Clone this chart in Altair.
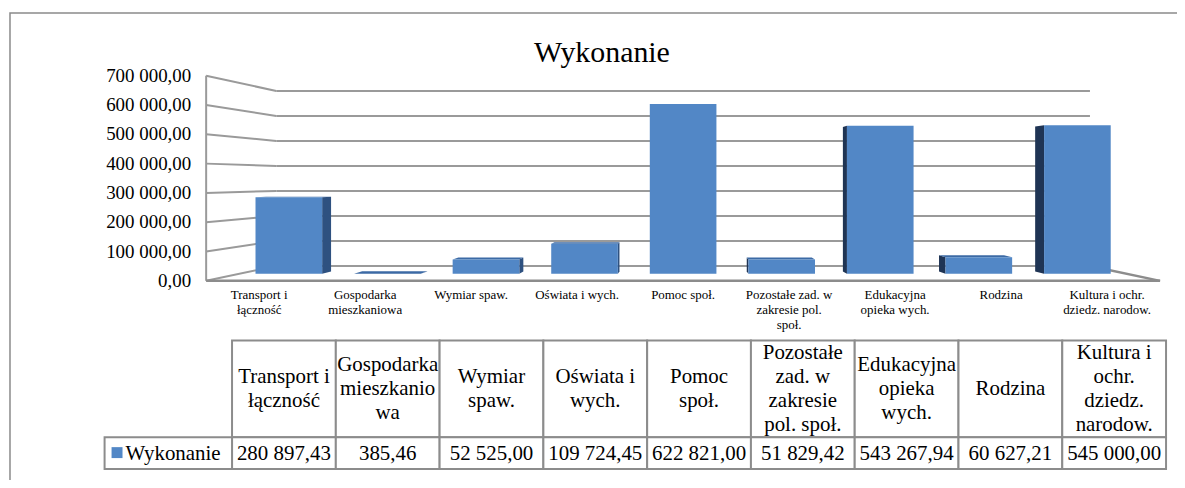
import altair as alt
import pandas as pd

# ---------------- data ----------------
series_name = "Wykonanie"
categories = [
    "Transport i łączność", "Gospodarka mieszkaniowa", "Wymiar spaw.",
    "Oświata i wych.", "Pomoc społ.", "Pozostałe zad. w zakresie pol. społ.",
    "Edukacyjna opieka wych.", "Rodzina", "Kultura i ochr. dziedz. narodow.",
]
axis_labels = [
    "Transport i\nłączność", "Gospodarka\nmieszkaniowa", "Wymiar spaw.",
    "Oświata i wych.", "Pomoc społ.", "Pozostałe zad. w\nzakresie pol.\nspoł.",
    "Edukacyjna\nopieka wych.", "Rodzina", "Kultura i ochr.\ndziedz. narodow.",
]
table_headers = [
    "Transport i\nłączność", "Gospodarka\nmieszkanio\nwa", "Wymiar\nspaw.",
    "Oświata i\nwych.", "Pomoc\nspoł.", "Pozostałe\nzad. w\nzakresie\npol. społ.",
    "Edukacyjna\nopieka\nwych.", "Rodzina", "Kultura i\nochr.\ndziedz.\nnarodow.",
]
values = [280897.43, 385.46, 52525.00, 109724.45, 622821.00,
          51829.42, 543267.94, 60627.21, 545000.00]
y_ticks = [0, 100000, 200000, 300000, 400000, 500000, 600000, 700000]

# ---------------- layout / perspective ----------------
W, H = 958, 206
XMIN, XMAX = -0.5, 8.5
YMAX = 700000
XC, VC = 4.0, 346600.0         # vanishing centre (slot units, value units)
S_WALL, S_F, S_B, HW = 0.853, 0.93, 0.907, 0.338
SERIF = "Liberation Serif"
GRID = "#9A9A9A"
FRONT, RIGHT_FACE, LEFT_FACE, TOP_FACE = "#5287C6", "#2E5180", "#1F3454", "#3C6AA5"


def px(x, s):
    return XC + (x - XC) * s


def pv(v, s):
    return VC + (v - VC) * s


def fmt(v):
    return f"{v:,.2f}".replace(",", " ").replace(".", ",")


xs = alt.Scale(domain=[XMIN, XMAX], nice=False, zero=False)
ys = alt.Scale(domain=[0, YMAX], nice=False, zero=False)


def X(f):
    return alt.X(f, type="quantitative", scale=xs, axis=None)


def Y(f):
    return alt.Y(f, type="quantitative", scale=ys, axis=None)


# back wall grid
wall = pd.DataFrame({
    "x": [px(XMIN, S_WALL)] * len(y_ticks),
    "x2": [px(XMAX, S_WALL)] * len(y_ticks),
    "y": [pv(t, S_WALL) for t in y_ticks],
})
back_grid = alt.Chart(wall).mark_rule(color=GRID, strokeWidth=2).encode(
    x=X("x"), x2="x2", y=Y("y")
)

# left wall lines + front vertical edge (value axis)
left = pd.DataFrame({
    "x": [XMIN] * len(y_ticks) + [XMIN],
    "y": y_ticks + [0],
    "x2": [px(XMIN, S_WALL)] * len(y_ticks) + [XMIN],
    "y2": [pv(t, S_WALL) for t in y_ticks] + [YMAX],
})
left_wall = alt.Chart(left).mark_rule(color=GRID, strokeWidth=2).encode(
    x=X("x"), y=Y("y"), x2="x2", y2="y2"
)

# value-axis labels
ylab = pd.DataFrame({"x": [XMIN] * len(y_ticks), "y": y_ticks,
                     "t": [fmt(t) for t in y_ticks]})
ylab_l = alt.Chart(ylab).mark_text(
    font=SERIF, fontSize=19, align="right", baseline="middle", dx=-15, color="black"
).encode(x=X("x"), y=Y("y"), text="t:N")

# floor edges
floor = pd.DataFrame({
    "x": [XMIN, XMAX],
    "y": [0, 0],
    "x2": [XMAX, px(XMAX, S_WALL)],
    "y2": [0, pv(0, S_WALL)],
})
floor_l = alt.Chart(floor).mark_rule(color="#8C8C8C", strokeWidth=2.5).encode(
    x=X("x"), y=Y("y"), x2="x2", y2="y2"
)

# bars: front faces
front = pd.DataFrame({
    "cat": categories,
    "x": [px(i - HW, S_F) for i in range(len(values))],
    "x2": [px(i + HW, S_F) for i in range(len(values))],
    "y": [pv(0, S_F)] * len(values),
    "y2": [pv(v, S_F) for v in values],
})
front_l = alt.Chart(front).mark_rect(color=FRONT).encode(
    x=X("x"), x2="x2", y=Y("y"), y2="y2"
)

# side faces
side_rows = []
for i, v in enumerate(values):
    if i + HW < XC:
        edge, face = i + HW, "right"
    elif i - HW > XC:
        edge, face = i - HW, "left"
    else:
        continue
    for s in (S_F, S_B):
        side_rows.append({"cat": categories[i], "face": face,
                          "x": px(edge, s), "y": pv(0, s), "y2": pv(v, s)})
side = pd.DataFrame(side_rows)
side_l = alt.Chart(side).mark_area(orient="vertical").encode(
    x=X("x"), y=Y("y"), y2="y2", detail="cat:N",
    color=alt.Color("face:N", scale=alt.Scale(domain=["right", "left"],
                                              range=[RIGHT_FACE, LEFT_FACE]), legend=None),
)

# top faces (bars below eye level)
top_rows = []
for i, v in enumerate(values):
    if v < VC:
        for s in (S_F, S_B):
            top_rows.append({"cat": categories[i], "y": pv(v, s),
                             "x": px(i - HW, s), "x2": px(i + HW, s)})
top = pd.DataFrame(top_rows)
top_l = alt.Chart(top).mark_area(orient="horizontal", color=TOP_FACE).encode(
    y=Y("y"), x=X("x"), x2="x2", detail="cat:N"
)

# category labels under floor
lab = pd.DataFrame({"i": list(range(len(categories))), "label": axis_labels})
labels_l = alt.Chart(lab).mark_text(
    font=SERIF, fontSize=13, lineBreak="\n", lineHeight=15,
    baseline="alphabetic", align="center", color="black",
).encode(x=X("i"), y=alt.value(224), text="label:N")

# ---------------- data table ----------------
tx = alt.X("cat:N", sort=categories, axis=None,
           scale=alt.Scale(domain=categories, range=[26, 964], paddingInner=0, paddingOuter=0))
ty = alt.Scale(domain=[0, 129], range=[266, 395], nice=False, zero=False)
LH = 24
tab = pd.DataFrame({
    "cat": categories,
    "head": table_headers,
    "ty": [48.5 - (h.count("\n")) * LH / 2 for h in table_headers],
    "val": [fmt(v) for v in values],
})
TSTROKE = "#8C8C8C"
head_cells = alt.Chart(tab).mark_rect(fill="white", stroke=TSTROKE, strokeWidth=2).encode(
    x=tx, y=alt.value(266), y2=alt.value(363))
val_cells = alt.Chart(tab).mark_rect(fill="white", stroke=TSTROKE, strokeWidth=2).encode(
    x=tx, y=alt.value(363), y2=alt.value(395))
head_text = alt.Chart(tab).mark_text(
    font=SERIF, fontSize=21, lineBreak="\n", lineHeight=LH, baseline="middle", color="black"
).encode(x=tx, y=alt.Y("ty:Q", scale=ty, axis=None), text="head:N")
val_text = alt.Chart(tab).mark_text(
    font=SERIF, fontSize=21, baseline="middle", color="black"
).encode(x=tx, y=alt.value(380), text="val:N")

one = pd.DataFrame({"name": [series_name]})
legend_cell = alt.Chart(one).mark_rect(fill="white", stroke=TSTROKE, strokeWidth=2).encode(
    x=alt.value(-102), x2=alt.value(26), y=alt.value(363), y2=alt.value(395))
legend_sq = alt.Chart(one).mark_rect(color=FRONT).encode(
    x=alt.value(-95), x2=alt.value(-84), y=alt.value(373), y2=alt.value(384))
legend_txt = alt.Chart(one).mark_text(
    font=SERIF, fontSize=21, baseline="middle", align="left", color="black"
).encode(x=alt.value(-81), y=alt.value(380), text="name:N")

# title & frame
title = alt.Chart(one).mark_text(
    font=SERIF, fontSize=30, baseline="alphabetic", align="center", color="black"
).encode(x=alt.value(397.5), y=alt.value(-14), text="name:N")
frame = alt.Chart(one).mark_rect(fill="transparent", stroke="#8A8A8A", strokeWidth=1.5).encode(
    x=alt.value(-197), x2=alt.value(1010), y=alt.value(-63), y2=alt.value(460))

chart = alt.layer(
    frame, back_grid, left_wall, floor_l, side_l, top_l, front_l, labels_l, ylab_l,
    head_cells, val_cells, legend_cell, head_text, val_text, legend_sq, legend_txt, title,
).resolve_scale(x="independent", y="independent").properties(
    width=W, height=H,
    padding={"left": 199, "top": 67, "right": 17, "bottom": 199},
    autosize=alt.AutoSizeParams(type="none"),
).configure_view(strokeWidth=0)

chart.save("out.html", embed_options={"renderer": "svg", "actions": False})
